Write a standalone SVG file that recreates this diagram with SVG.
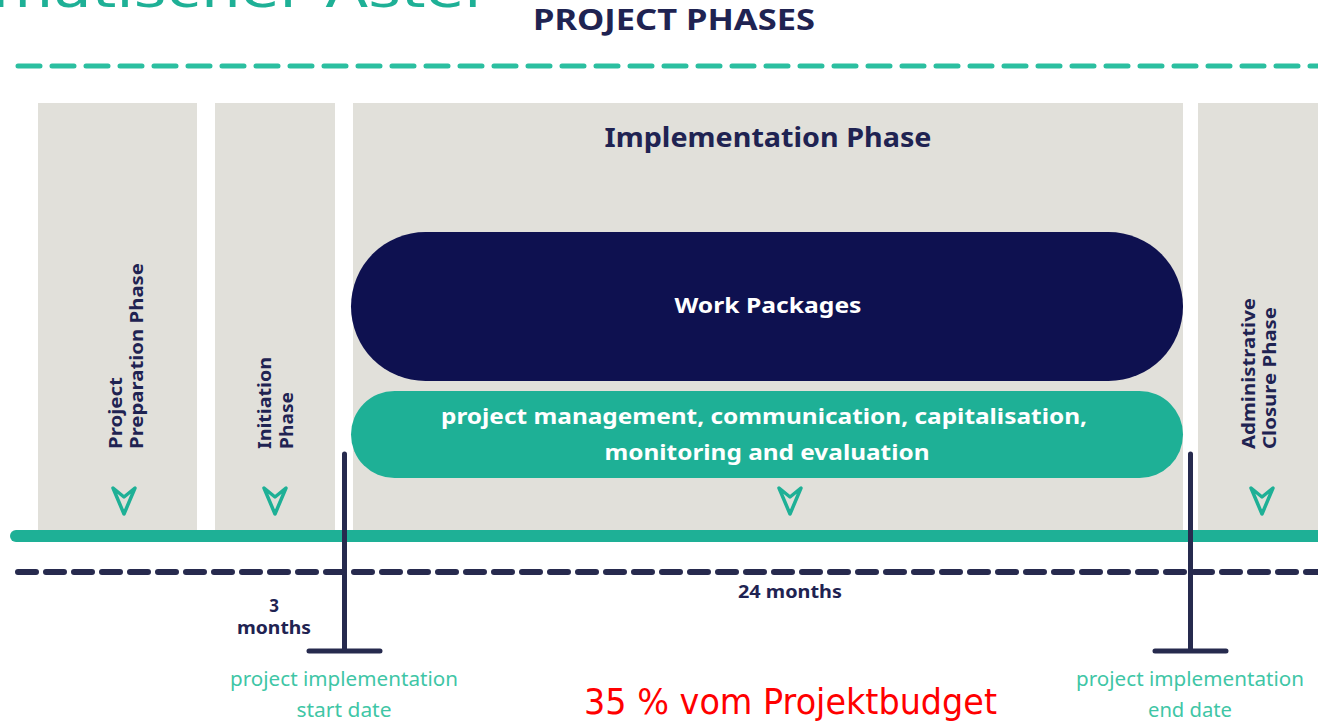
<svg xmlns="http://www.w3.org/2000/svg" width="1318" height="721" viewBox="0 0 1318 721">
<style>
.col{fill:#e1e0da}
.t{font-family:"Noto Sans","Open Sans",sans-serif;font-weight:bold}
.dark{fill:#1f2352}
.wt{fill:#ffffff}
.lt{font-family:"Noto Sans","Open Sans",sans-serif;fill:#3fc6a6;font-size:19px}
.arr{fill:none;stroke:#1eb096;stroke-width:3.5;stroke-linejoin:round}
.mk{stroke:#262a4e;stroke-width:5;stroke-linecap:round;fill:none}
</style>
<rect width="1318" height="721" fill="#ffffff"/>
<text x="-8" y="7" font-family="DejaVu Sans, Verdana, sans-serif" font-size="50" fill="#1eb096" textLength="498" lengthAdjust="spacingAndGlyphs">matischer Aster</text>
<text x="674" y="30" text-anchor="middle" class="t dark" font-size="28" textLength="282" lengthAdjust="spacingAndGlyphs">PROJECT PHASES</text>

<g id="connectors">
<line x1="18" y1="66" x2="1318" y2="66" stroke="#2bbfa0" stroke-width="5" stroke-dasharray="22 12" stroke-linecap="round"/>
</g>

<g id="phase-preparation">
<rect class="col" x="38" y="103" width="159" height="427"/>
<g transform="translate(122,449) rotate(-90)"><text class="t dark" font-size="17" textLength="72" lengthAdjust="spacingAndGlyphs">Project</text></g>
<g transform="translate(143,449) rotate(-90)"><text class="t dark" font-size="17" textLength="186" lengthAdjust="spacingAndGlyphs">Preparation Phase</text></g>
<path class="arr" d="M113,488 L124,497 L135,488 L124,514 Z"/>
</g>

<g id="phase-initiation">
<rect class="col" x="215" y="103" width="120" height="427"/>
<g transform="translate(271,449) rotate(-90)"><text class="t dark" font-size="17" textLength="92" lengthAdjust="spacingAndGlyphs">Initiation</text></g>
<g transform="translate(293,449) rotate(-90)"><text class="t dark" font-size="17" textLength="57" lengthAdjust="spacingAndGlyphs">Phase</text></g>
<path class="arr" d="M264,488 L275,497 L286,488 L275,514 Z"/>
</g>

<g id="phase-implementation">
<rect class="col" x="353" y="103" width="830" height="427"/>
<text x="768" y="147" text-anchor="middle" class="t dark" font-size="26" textLength="327" lengthAdjust="spacingAndGlyphs">Implementation Phase</text>
<path class="arr" d="M779,488 L790,497 L801,488 L790,514 Z"/>
</g>

<g id="work-packages">
<rect x="351" y="232" width="832" height="149" rx="74.5" fill="#0e1150"/>
<text x="768" y="313" text-anchor="middle" class="t wt" font-size="22" textLength="187" lengthAdjust="spacingAndGlyphs">Work Packages</text>
</g>

<g id="project-management">
<rect x="351" y="391" width="832" height="87" rx="43.5" fill="#1eb096"/>
<text x="764" y="424" text-anchor="middle" class="t wt" font-size="22" textLength="646" lengthAdjust="spacingAndGlyphs">project management, communication, capitalisation,</text>
<text x="767" y="460" text-anchor="middle" class="t wt" font-size="22" textLength="325" lengthAdjust="spacingAndGlyphs">monitoring and evaluation</text>
</g>

<g id="phase-closure">
<rect class="col" x="1198" y="103" width="120" height="427"/>
<g transform="translate(1255,449) rotate(-90)"><text class="t dark" font-size="17" textLength="151" lengthAdjust="spacingAndGlyphs">Administrative</text></g>
<g transform="translate(1276,449) rotate(-90)"><text class="t dark" font-size="17" textLength="142" lengthAdjust="spacingAndGlyphs">Closure Phase</text></g>
<path class="arr" d="M1251,488 L1262,497 L1273,488 L1262,514 Z"/>
</g>

<g id="timeline">
<line x1="16" y1="536" x2="1318" y2="536" stroke="#1eb096" stroke-width="12" stroke-linecap="round"/>
<line x1="18" y1="572" x2="1318" y2="572" stroke="#272a4e" stroke-width="6" stroke-dasharray="18 10" stroke-linecap="round"/>
<text x="274" y="612" text-anchor="middle" class="t dark" font-size="17">3</text>
<text x="274" y="634" text-anchor="middle" class="t dark" font-size="17" textLength="74" lengthAdjust="spacingAndGlyphs">months</text>
<text x="790" y="598" text-anchor="middle" class="t dark" font-size="17" textLength="104" lengthAdjust="spacingAndGlyphs">24 months</text>
</g>

<g id="start-marker">
<path class="mk" d="M344.5,454 V651 M309,651 H380"/>
<text x="344" y="686" text-anchor="middle" class="lt" textLength="228" lengthAdjust="spacingAndGlyphs">project implementation</text>
<text x="344" y="717" text-anchor="middle" class="lt" textLength="95" lengthAdjust="spacingAndGlyphs">start date</text>
</g>

<g id="end-marker">
<path class="mk" d="M1190.5,454 V651 M1155,651 H1226"/>
<text x="1190" y="686" text-anchor="middle" class="lt" textLength="228" lengthAdjust="spacingAndGlyphs">project implementation</text>
<text x="1190" y="717" text-anchor="middle" class="lt" textLength="84" lengthAdjust="spacingAndGlyphs">end date</text>
</g>

<text x="584" y="714" font-family="DejaVu Sans, Verdana, sans-serif" font-size="36" fill="#ff0000" textLength="413" lengthAdjust="spacingAndGlyphs">35 % vom Projektbudget</text>
</svg>
